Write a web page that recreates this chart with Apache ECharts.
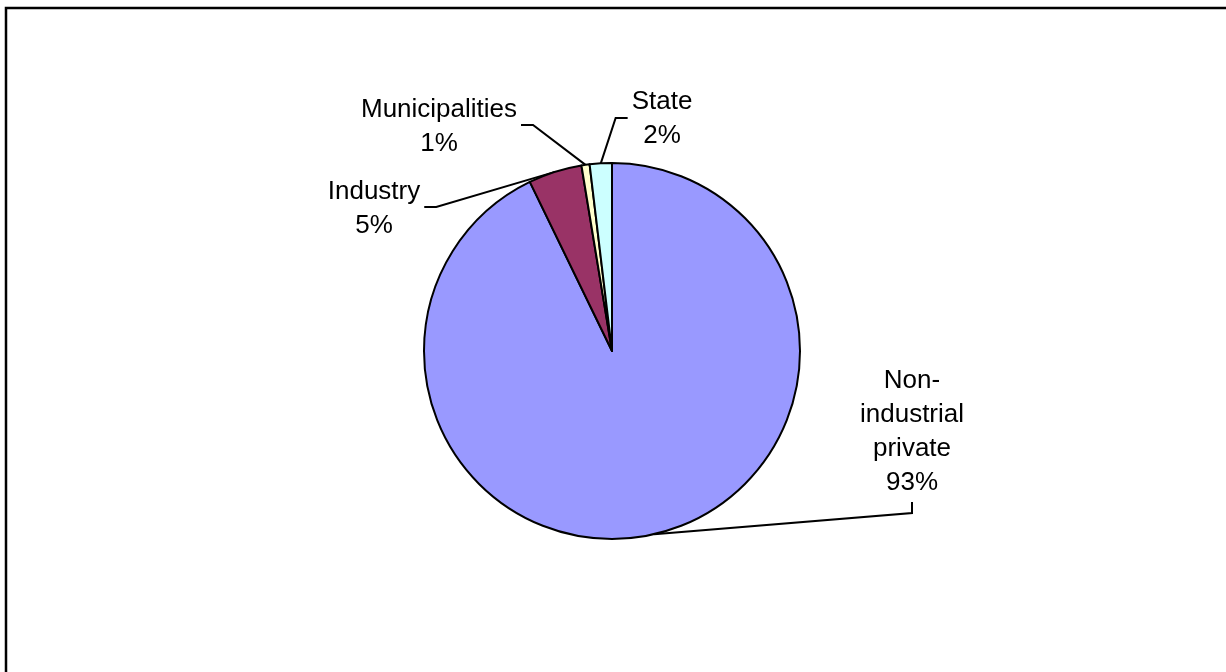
<!DOCTYPE html>
<html>
<head>
<meta charset="utf-8">
<title>Forest ownership</title>
<script src="https://cdn.jsdelivr.net/npm/echarts@6/dist/echarts.min.js"></script>
<style>
  html, body { margin: 0; padding: 0; background: #ffffff; }
  #chart { width: 1226px; height: 672px; }
</style>
</head>
<body>
<div id="chart"></div>
<script>
// Ownership shares (percent of total)
const owners = ['Non-industrial private', 'Industry', 'Municipalities', 'State'];
const shares = [92.8, 4.6, 0.7, 1.9];
const sliceColors = ['#9999FF', '#993366', '#FFFFCC', '#CCFFFF'];

// Pie geometry
const pieCenter = [612, 351];
const pieRadius = 188;

// Label placement: centre of each text block and the side its leader line leaves from
const labelSpots = [
  { x: 912, y: 432, side: 'bottom' },
  { x: 374, y: 209, side: 'right' },
  { x: 439, y: 127, side: 'right' },
  { x: 662, y: 119, side: 'left' }
];

const total = shares.reduce((a, b) => a + b, 0);

// Point on the pie rim at the middle of slice i (clockwise from 12 o'clock)
function rimPoint(i) {
  let before = 0;
  for (let k = 0; k < i; k++) before += shares[k];
  const mid = (before + shares[i] / 2) / total * 2 * Math.PI;
  return [pieCenter[0] + pieRadius * Math.sin(mid), pieCenter[1] - pieRadius * Math.cos(mid)];
}

const chart = echarts.init(document.getElementById('chart'), null, { renderer: 'canvas' });

chart.setOption({
  animation: false,
  backgroundColor: '#ffffff',
  graphic: [{
    type: 'rect',
    shape: { x: 6, y: 8, width: 1300, height: 700 },
    style: { fill: 'none', stroke: '#000000', lineWidth: 2.5 },
    silent: true
  }],
  series: [{
    type: 'pie',
    center: pieCenter,
    radius: pieRadius,
    startAngle: 90,
    clockwise: true,
    avoidLabelOverlap: false,
    emphasis: { disabled: true },
    itemStyle: { borderColor: '#000000', borderWidth: 2 },
    label: {
      show: true,
      position: 'outside',
      color: '#000000',
      fontFamily: 'Liberation Sans, Arial, sans-serif',
      fontSize: 26,
      lineHeight: 34,
      align: 'center',
      formatter: function (p) {
        const name = p.name.replace('-', '-\n').replace(' ', '\n');
        return name + '\n' + Math.round(p.value) + '%';
      }
    },
    labelLine: {
      show: true,
      length: 10,
      length2: 10,
      lineStyle: { color: '#000000', width: 2 }
    },
    labelLayout: function (params) {
      const i = params.dataIndex;
      const spot = labelSpots[i];
      const w = params.labelRect.width;
      const h = params.labelRect.height;
      const start = rimPoint(i);
      let end, elbow;
      if (spot.side === 'left') {
        end = [spot.x - w / 2 - 4, spot.y - 1];
        elbow = [end[0] - 12, end[1]];
      } else if (spot.side === 'right') {
        end = [spot.x + w / 2 + 4, spot.y - 2];
        elbow = [end[0] + 12, end[1]];
      } else {
        end = [spot.x, spot.y + h / 2 + 2];
        elbow = [end[0], end[1] + 11];
      }
      return {
        x: spot.x,
        y: spot.y,
        align: 'center',
        verticalAlign: 'middle',
        labelLinePoints: [start, elbow, end]
      };
    },
    data: owners.map((name, i) => ({
      name: name,
      value: shares[i],
      itemStyle: { color: sliceColors[i] }
    }))
  }]
});
</script>
</body>
</html>
